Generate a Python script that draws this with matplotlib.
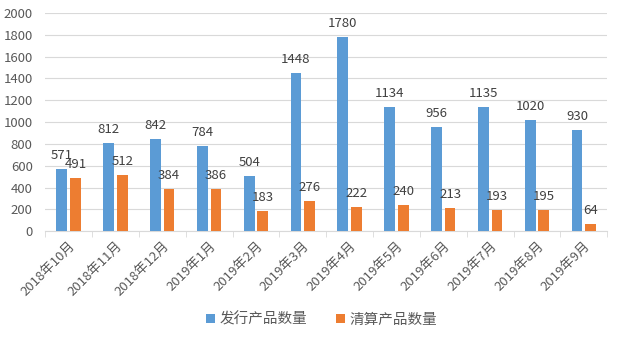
import numpy as np
import matplotlib
matplotlib.use("Agg")
import matplotlib.pyplot as plt

plt.rcParams['font.family'] = ['Noto Sans CJK SC', 'DejaVu Sans']

months = ['2018年10月', '2018年11月', '2018年12月', '2019年1月', '2019年2月', '2019年3月',
          '2019年4月', '2019年5月', '2019年6月', '2019年7月', '2019年8月', '2019年9月']
issued = [571, 812, 842, 784, 504, 1448, 1780, 1134, 956, 1135, 1020, 930]
liquidated = [491, 512, 384, 386, 183, 276, 222, 240, 213, 193, 195, 64]

blue = '#5B9BD5'
orange = '#ED7D31'
grey = '#595959'

fig = plt.figure(figsize=(6.19, 3.4), dpi=100)
ax = fig.add_axes([0.073, 0.32, 0.908, 0.642])

x = np.arange(len(months))
w = 0.23
gap = 0.03
b1 = ax.bar(x - w / 2 - gap, issued, w, color=blue, label='发行产品数量', zorder=3)
b2 = ax.bar(x + w / 2 + gap, liquidated, w, color=orange, label='清算产品数量', zorder=3)

for bars in (b1, b2):
    for rect in bars:
        ax.annotate('%d' % rect.get_height(),
                    (rect.get_x() + rect.get_width() / 2, rect.get_height()),
                    xytext=(0, 5), textcoords='offset points',
                    ha='center', va='bottom', fontsize=9.5, color='#404040')

ax.set_xlim(-0.5, len(months) - 0.5)
ax.set_ylim(0, 2000)
ax.set_yticks(range(0, 2001, 200))
ax.yaxis.grid(True, color='#D9D9D9', linewidth=0.8, zorder=0)

ax.set_xticks(x)
ax.set_xticklabels(months, rotation=45, ha='right', rotation_mode='anchor',
                   fontsize=9.5, color=grey)
ax.set_xticks(np.arange(-0.5, len(months)), minor=True)
ax.tick_params(axis='x', which='major', length=0, pad=6)
ax.tick_params(axis='x', which='minor', length=4, color='#D9D9D9')
ax.tick_params(axis='y', length=0, labelsize=9.5, labelcolor=grey, pad=9)

for side in ('top', 'right', 'left'):
    ax.spines[side].set_visible(False)
ax.spines['bottom'].set_color('#D9D9D9')

fig.legend(loc='lower center', ncol=2, frameon=False, fontsize=10.5,
           labelcolor=grey, handlelength=0.6, handleheight=0.6,
           handletextpad=0.3, columnspacing=2.0, bbox_to_anchor=(0.52, 0.0))

fig.savefig('out.png', dpi=100)
